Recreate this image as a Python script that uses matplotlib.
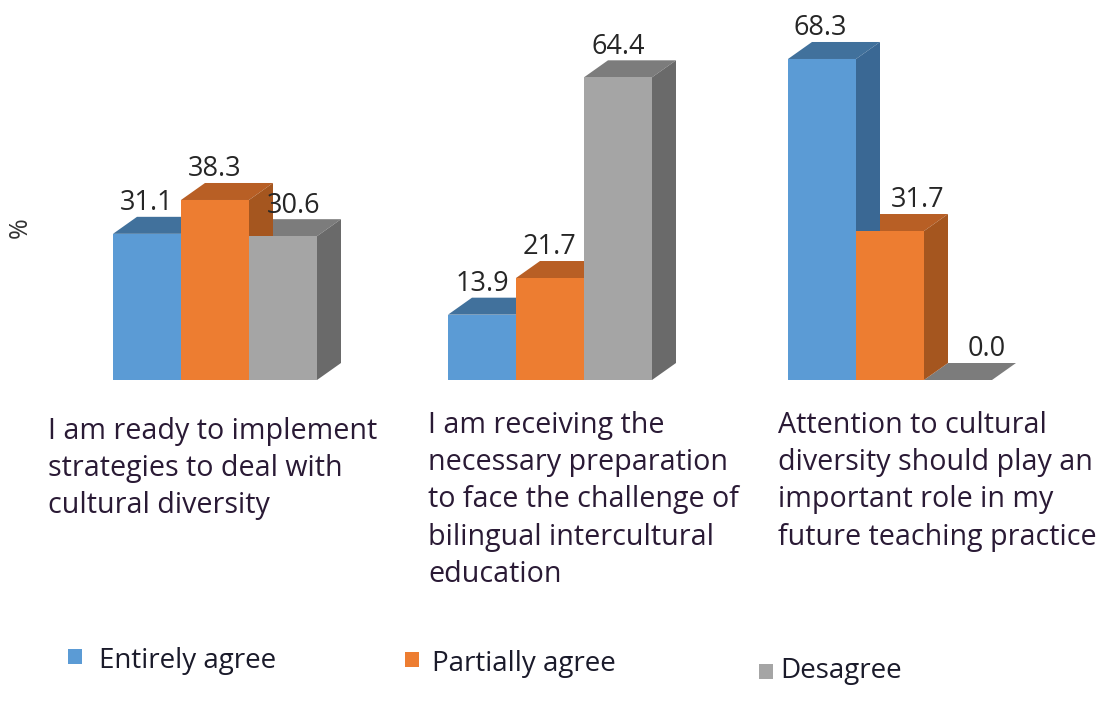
import matplotlib
matplotlib.use("Agg")
import matplotlib.pyplot as plt
from matplotlib.patches import Polygon, Rectangle

plt.rcParams['font.family'] = ['Open Sans', 'DejaVu Sans']

# values (%)
series_names = ["Entirely agree", "Partially agree", "Desagree"]
entirely_agree = [31.1, 13.9, 68.3]
partially_agree = [38.3, 21.7, 31.7]
desagree = [30.6, 64.4, 0.0]
categories = [
    "I am ready to implement\nstrategies to deal with\ncultural diversity",
    "I am receiving the\nnecessary preparation\nto face the challenge of\nbilingual intercultural\neducation",
    "Attention to cultural\ndiversity should play an\nimportant role in my\nfuture teaching practice",
]

W, H = 1110, 712
BASE_Y = 380       # pixel row of the zero line
PX_PER_UNIT = 4.7
BAR_W = 68
DEPTH_X, DEPTH_Y = 24, 17

front = ["#5B9BD5", "#ED7D31", "#A5A5A5"]
top = ["#41719C", "#B85F25", "#7C7C7C"]
side = ["#3A6894", "#A5561F", "#6A6A6A"]

group_centres = [215, 550, 890]
label_x = [48, 428, 778]
label_y = [431, 425, 425]
line_gap = 37.5

# value labels that were nudged sideways in the original, by series then group
label_shift = [[0, 0, -2], [0, 0, 28], [11, 0, 29]]

fig = plt.figure(figsize=(W / 100, H / 100), dpi=100)
ax = fig.add_axes([0, 0, 1, 1])
ax.set_xlim(0, W)
ax.set_ylim((BASE_Y - H) / PX_PER_UNIT, BASE_Y / PX_PER_UNIT)
ax.axis("off")

dy = DEPTH_Y / PX_PER_UNIT
all_series = [entirely_agree, partially_agree, desagree]

# front faces via bar, depth faces built from the bar rectangles
for s in [2, 1, 0]:
    xs = [c + (s - 1) * BAR_W for c in group_centres]
    bars = ax.bar(xs, all_series[s], width=BAR_W, color=front[s], linewidth=0, zorder=5)
    for g, (r, v) in enumerate(zip(bars, all_series[s])):
        x0 = r.get_x()
        x1 = x0 + BAR_W
        ax.add_patch(Polygon([(x0, v), (x0 + DEPTH_X, v + dy), (x1 + DEPTH_X, v + dy), (x1, v)],
                             closed=True, color=top[s], linewidth=0, zorder=2 + (2 - s)))
        ax.add_patch(Polygon([(x1, 0), (x1 + DEPTH_X, dy), (x1 + DEPTH_X, v + dy), (x1, v)],
                             closed=True, color=side[s], linewidth=0, zorder=2 + (2 - s)))
        ax.text(x0 + BAR_W / 2 + label_shift[s][g], v + dy - 0.1, f"{v:.1f}", ha="center", va="bottom",
                fontsize=19.5, color="#262626", zorder=8)

fig.text(20 / W, 1 - 228 / H, "%", rotation=90, ha="center", va="center", fontsize=18, color="#333333")

for txt, x, y in zip(categories, label_x, label_y):
    for i, line in enumerate(txt.split("\n")):
        fig.text(x / W, 1 - (y + i * line_gap) / H, line, ha="left", va="center",
                 fontsize=20.6, color="#2A1A35")

# hand placed legend, the entries do not sit on one line
legend_marks = [(68, 649), (405, 652), (759, 664)]
legend_text = [(99, 661), (432, 664), (780, 671)]
for name, col, m, t in zip(series_names, front, legend_marks, legend_text):
    fig.add_artist(Rectangle((m[0] / W, 1 - (m[1] + 15) / H), 14 / W, 15 / H,
                             transform=fig.transFigure, color=col, linewidth=0))
    fig.text(t[0] / W, 1 - t[1] / H, name, ha="left", va="center", fontsize=20, color="#1A1A2A")

fig.savefig("out.png", dpi=100)
